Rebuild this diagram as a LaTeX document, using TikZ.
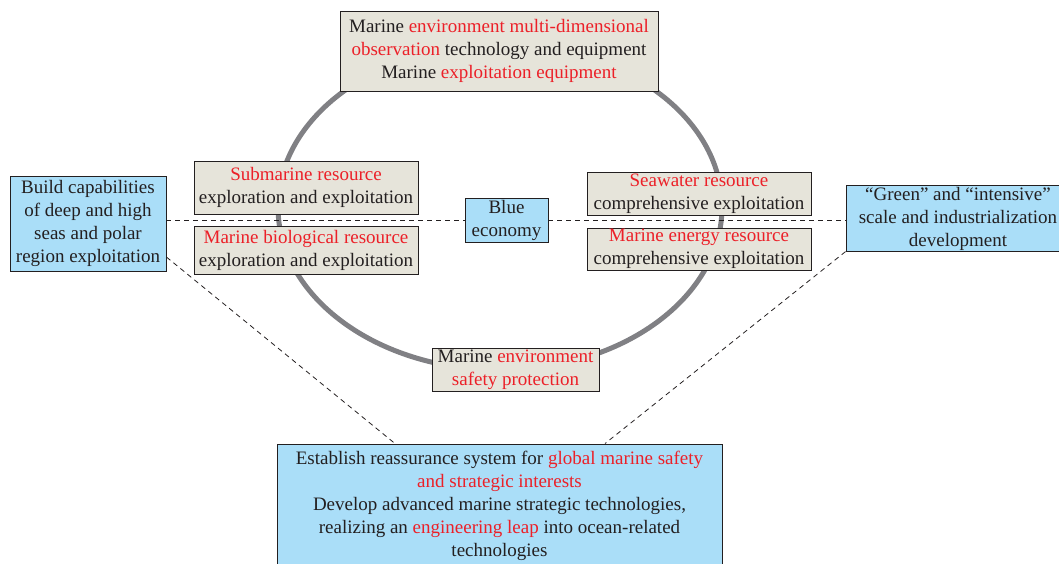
\documentclass[tikz,border=0pt]{standalone}
\usepackage{fontspec}
\setmainfont{Liberation Serif}
\usepackage{xcolor}
\usetikzlibrary{calc}
\definecolor{inkgray}{RGB}{35,31,32}
\definecolor{accentred}{RGB}{236,32,40}
\definecolor{sandfill}{RGB}{230,228,218}
\definecolor{skyfill}{RGB}{170,222,248}
\definecolor{ringgray}{RGB}{128,128,132}
\newcommand{\redtxt}[1]{\textcolor{accentred}{#1}}
\tikzset{%
    boxbase/.style={%
        draw=inkgray, line width=0.9pt, align=center, inner sep=1pt,
        text=inkgray, font=\fontsize{19}{23}\selectfont},
    sandbox/.style={boxbase, fill=sandfill},
    skybox/.style={boxbase, fill=skyfill},
    ring/.style={ringgray, line width=5pt},
    guide/.style={inkgray, dashed, line width=0.8pt, dash pattern=on 5pt off 4pt}
}

\begin{document}
\begin{tikzpicture}[x=1pt,y=-1pt]
    \useasboundingbox (0,0) rectangle (1059,563);
    \draw[ring] (500,207) ellipse [x radius=222, y radius=163];
    \node[sandbox, minimum width=318, minimum height=80] (obs) at (499,51)
        {Marine \redtxt{environment multi-dimensional}\\
         \redtxt{observation} technology and equipment\\
         Marine \redtxt{exploitation equipment}};
    \node[sandbox, minimum width=224, minimum height=53] (sub) at (306,187.5)
        {\redtxt{Submarine resource}\\exploration and exploitation};
    \node[sandbox, minimum width=224, minimum height=48] (bio) at (306,250)
        {\redtxt{Marine biological resource}\\exploration and exploitation};
    \node[sandbox, minimum width=224, minimum height=43] (sea) at (699,193.5)
        {\redtxt{Seawater resource}\\comprehensive exploitation};
    \node[sandbox, minimum width=224, minimum height=42] (nrg) at (699,249)
        {\redtxt{Marine energy resource}\\comprehensive exploitation};
    \node[sandbox, minimum width=167, minimum height=43] (safe) at (515.5,369.5)
        {Marine \redtxt{environment}\\\redtxt{safety protection}};
    \node[skybox, minimum width=83, minimum height=44] (blue) at (506.5,220)
        {Blue\\economy};
    \node[skybox, minimum width=156, minimum height=95] (polar) at (88,223.5)
        {Build capabilities\\of deep and high\\seas and polar\\region exploitation};
    \node[skybox, minimum width=224, minimum height=65] (green) at (958,218.5)
        {``Green'' and ``intensive''\\scale and industrialization\\development};
    \node[skybox, minimum width=445, minimum height=124] (strat) at (499.5,506)
        {Establish reassurance system for \redtxt{global marine safety}\\
         \redtxt{and strategic interests}\\
         Develop advanced marine strategic technologies,\\
         realizing an \redtxt{engineering leap} into ocean-related\\
         technologies};
    \draw[guide] (polar.east |- blue.west) -- (blue.west);
    \draw[guide] (blue.east) -- (green.west |- blue.east);
    \coordinate (polarfoot) at ($(polar.north east)!0.85!(polar.south east)$);
    \coordinate (greenfoot) at (green.south west);
    \draw[guide] (polarfoot) -- (strat.north -| 395,0);
    \draw[guide] (greenfoot) -- (strat.north -| 605,0);
\end{tikzpicture}
\end{document}
